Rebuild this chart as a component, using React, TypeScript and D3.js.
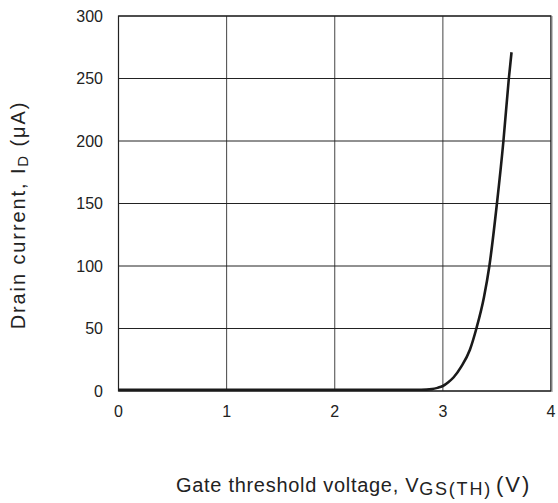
import React from "react";
import * as d3 from "d3";

const vgs = [0, 1, 2, 2.8, 2.9, 2.95, 3.0, 3.05, 3.1, 3.17, 3.25, 3.31, 3.38, 3.43, 3.5, 3.56, 3.61, 3.635];
const idUA = [1, 1, 1, 1, 1.5, 2.5, 4, 7, 11, 19.5, 33, 50, 75, 100, 150, 200, 250, 271];
const xTicks = [0, 1, 2, 3, 4];
const yTicks = [0, 50, 100, 150, 200, 250, 300];

const W = 558, H = 503;
const L = 118.5, R = 551, T = 16, B = 391;
const font = "'Liberation Sans', Arial, Helvetica, sans-serif";

export default function App() {
  const x = d3.scaleLinear().domain([0, 4]).range([L, R]);
  const y = d3.scaleLinear().domain([0, 300]).range([B, T]);
  const pts = vgs.map((v, i) => [v, idUA[i]] as [number, number]);
  const line = d3.line<[number, number]>().x(d => x(d[0])).y(d => y(d[1])).curve(d3.curveMonotoneX);
  return (
    <svg width={W} height={H} style={{ position: "absolute", left: 0, top: 0, background: "#fff" }}>
      <rect x={0} y={0} width={W} height={H} fill="#fff" />
      {xTicks.map(t => (
        <line key={"gx" + t} x1={x(t)} x2={x(t)} y1={T} y2={B} stroke="#444" strokeWidth={1} />
      ))}
      {yTicks.map(t => (
        <line key={"gy" + t} x1={L} x2={R} y1={y(t)} y2={y(t)} stroke="#222" strokeWidth={1} />
      ))}
      <rect x={L} y={T} width={R - L} height={B - T} fill="none" stroke="#222" strokeWidth={1.2} />
      <line x1={R + 1} x2={R + 1} y1={T} y2={B + 1} stroke="#999" strokeWidth={1.2} />
      <path d={line(pts) || ""} fill="none" stroke="#1a1a1a" strokeWidth={2.6} />
      {yTicks.map(t => (
        <text key={"ty" + t} x={103} y={y(t)} dy="0.36em" textAnchor="end" fontFamily={font} fontSize={16} fill="#222">{t}</text>
      ))}
      {xTicks.map(t => (
        <text key={"tx" + t} x={x(t)} y={417} textAnchor="middle" fontFamily={font} fontSize={16} fill="#222">{t}</text>
      ))}
      <text x={176} y={492} fontFamily={font} fontSize={20} letterSpacing={0.7} fill="#222">
        Gate threshold voltage, V<tspan fontSize={18} letterSpacing={1.8} dy={3}>GS(TH)</tspan><tspan dy={-3} dx={4} fontSize={22} letterSpacing={2}>(V)</tspan>
      </text>
      <text transform={`translate(25,215) rotate(-90)`} textAnchor="middle" fontFamily={font} fontSize={20} letterSpacing={1.9} fill="#222">
        Drain current, I<tspan fontSize={15} dy={3}>D</tspan><tspan dy={-3}> (μA)</tspan>
      </text>
    </svg>
  );
}
